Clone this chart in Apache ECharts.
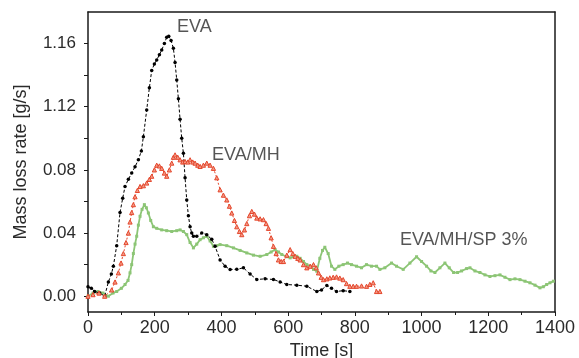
<!DOCTYPE html>
<html>
<head>
<meta charset="utf-8">
<script src="https://cdn.jsdelivr.net/npm/echarts@6/dist/echarts.min.js"></script>
<style>
  html, body { margin: 0; padding: 0; background: #fff; }
  #chart { width: 579px; height: 358px; }
</style>
</head>
<body>
<div id="chart"></div>
<script>
// Mass loss rate curves, [time (s), rate (g/s)]
const evaData = [
  [0,0.006],[10,0.005],[20,0.003],[35,0.002],[50,0.000],[61,0.009],[70,0.014],[76,0.019],[86,0.032],
  [96,0.053],[104,0.062],[111,0.0695],[121,0.074],[131,0.078],[141,0.082],[151,0.0864],[160,0.092],
  [166,0.101],[176,0.118],[184,0.132],[191,0.143],[199,0.147],[206,0.1496],[214,0.153],[221,0.156],
  [229,0.160],[236,0.164],[242,0.1647],[249,0.162],[256,0.157],[261,0.148],[266,0.137],[271,0.125],
  [276,0.112],[281,0.100],[286,0.0906],[291,0.075],[296,0.061],[301,0.051],[306,0.044],[311,0.040],
  [316,0.038],[326,0.038],[341,0.040],[356,0.039],[371,0.036],[381,0.0316],[396,0.023],[411,0.019],
  [426,0.0169],[446,0.017],[466,0.018],[486,0.014],[506,0.0106],[531,0.011],[556,0.0106],[576,0.009],
  [596,0.0074],[626,0.007],[656,0.0063],[686,0.003],[700,0.004],[716,0.0068],[730,0.005],[745,0.003],
  [765,0.0035],[785,0.003]
];
const evaMhData = [
  [0,0],[15,0.001],[33,0.002],[50,0.000],[71,0.004],[81,0.009],[91,0.0148],[99,0.021],[106,0.027],
  [114,0.034],[121,0.040],[126,0.047],[131,0.053],[136,0.058],[141,0.063],[148,0.067],[156,0.0695],
  [166,0.070],[176,0.0717],[184,0.074],[191,0.076],[199,0.080],[206,0.083],[214,0.0825],[221,0.081],
  [229,0.078],[236,0.076],[244,0.080],[251,0.0843],[256,0.088],[261,0.0895],[269,0.088],[276,0.0864],
  [284,0.085],[291,0.0853],[299,0.085],[306,0.0864],[314,0.085],[321,0.0843],[329,0.083],[336,0.0822],
  [346,0.083],[356,0.0843],[366,0.083],[376,0.081],[386,0.075],[396,0.0674],[406,0.064],[416,0.061],
  [424,0.057],[431,0.0527],[439,0.048],[446,0.044],[454,0.041],[461,0.039],[469,0.042],[476,0.046],
  [484,0.051],[491,0.0537],[499,0.052],[506,0.0495],[516,0.049],[526,0.0485],[534,0.046],[541,0.043],
  [549,0.037],[556,0.0316],[564,0.027],[571,0.023],[579,0.022],[586,0.022],[596,0.026],[606,0.0295],
  [614,0.027],[621,0.0253],[629,0.024],[636,0.023],[646,0.020],[656,0.018],[666,0.019],[676,0.020],
  [684,0.018],[691,0.0148],[699,0.012],[706,0.0105],[716,0.011],[725,0.0116],[735,0.012],[745,0.0122],
  [755,0.0115],[765,0.0105],[775,0.008],[785,0.0063],[795,0.0063],[805,0.0063],[820,0.0065],
  [835,0.0063],[845,0.0075],[855,0.0085],[865,0.003],[875,0.003]
];
const evaMhSpData = [
  [0,0],[15,0.002],[30,0.003],[45,0.002],[61,0.000],[75,0.002],[86,0.003],[100,0.005],[111,0.0074],
  [120,0.010],[126,0.0148],[131,0.020],[136,0.027],[141,0.033],[146,0.038],[151,0.045],[156,0.0506],
  [162,0.055],[169,0.058],[175,0.056],[181,0.0527],[188,0.048],[196,0.044],[206,0.043],[221,0.042],
  [236,0.0415],[251,0.041],[266,0.0415],[276,0.042],[286,0.041],[296,0.039],[306,0.034],[316,0.0306],
  [326,0.033],[336,0.0358],[346,0.037],[356,0.038],[366,0.035],[376,0.0316],[386,0.032],[396,0.0327],
  [416,0.032],[436,0.0306],[456,0.029],[476,0.0274],[496,0.026],[516,0.0253],[536,0.0264],[549,0.028],
  [561,0.0295],[571,0.028],[581,0.0264],[596,0.025],[606,0.0243],[616,0.025],[626,0.0253],[636,0.024],
  [646,0.022],[656,0.020],[666,0.019],[676,0.017],[686,0.0158],[695,0.024],[703,0.029],[710,0.031],
  [720,0.027],[730,0.019],[740,0.017],[752,0.019],[765,0.020],[778,0.021],[790,0.020],[805,0.019],
  [820,0.018],[835,0.020],[850,0.019],[865,0.019],[875,0.017],[890,0.018],[910,0.021],[925,0.019],
  [945,0.017],[965,0.021],[985,0.025],[1000,0.022],[1015,0.019],[1028,0.016],[1040,0.015],[1055,0.018],
  [1070,0.021],[1083,0.018],[1096,0.015],[1108,0.015],[1120,0.016],[1135,0.0175],[1145,0.018],
  [1160,0.016],[1175,0.015],[1190,0.0135],[1205,0.0125],[1220,0.013],[1235,0.0135],[1250,0.012],
  [1265,0.0105],[1280,0.011],[1295,0.0105],[1310,0.0095],[1325,0.0085],[1340,0.007],[1355,0.0053],
  [1365,0.006],[1375,0.0074],[1385,0.0085],[1395,0.0095]
];

// Y axis tick values and the labels printed next to them
const yTickValues = [0, 0.04, 0.08, 0.12, 0.16];
const yTickLabels = ['0.00', '0.04', '0.08', '1.12', '1.16'];
const yMinorTicks = [0, 0.02, 0.04, 0.06, 0.08, 0.10, 0.12, 0.14, 0.16];

// Curve names and where they are written
const curveNames = ['EVA', 'EVA/MH', 'EVA/MH/SP 3%'];
const nameAnchors = [[267, 0.1704], [372, 0.0891], [935, 0.0355]];

const chart = echarts.init(document.getElementById('chart'), null, { renderer: 'canvas' });
const FONT = '"Liberation Sans", Arial, sans-serif';
const TXT = '#2b2b2b';
const FRAME = '#1a1a1a';

function labelFor(v) {
  for (let i = 0; i < yTickValues.length; i++) {
    if (Math.abs(v - yTickValues[i]) < 1e-6) return yTickLabels[i];
  }
  return '';
}

const frameAxis = {
  type: 'value',
  axisLine: { show: true, onZero: false, lineStyle: { color: FRAME, width: 1.5 } },
  axisTick: { show: false }, axisLabel: { show: false }, splitLine: { show: false }
};

chart.setOption({
  animation: false,
  backgroundColor: '#fff',
  grid: { left: 88, right: 24, top: 12, bottom: 46, containLabel: false, outerBoundsMode: 'none' },
  xAxis: [{
    type: 'value', min: 0, max: 1400, interval: 200,
    name: 'Time [s]', nameLocation: 'middle', nameGap: 28,
    nameTextStyle: { fontFamily: FONT, fontSize: 18, color: TXT },
    axisLine: { show: true, onZero: false, lineStyle: { color: FRAME, width: 1.5 } },
    axisTick: { show: true, length: 4, lineStyle: { color: FRAME, width: 1 } },
    minorTick: { show: true, splitNumber: 2, length: 3, lineStyle: { color: FRAME, width: 1 } },
    splitLine: { show: false },
    axisLabel: { fontFamily: FONT, fontSize: 18, color: TXT, margin: 7, formatter: v => String(v) }
  }, Object.assign({ position: 'top', min: 0, max: 1400 }, frameAxis)],
  yAxis: [{
    type: 'value', min: -0.01, max: 0.18,
    name: 'Mass loss rate [g/s]', nameLocation: 'middle', nameGap: 58,
    nameTextStyle: { fontFamily: FONT, fontSize: 18, color: TXT },
    axisLine: { show: true, onZero: false, lineStyle: { color: FRAME, width: 1.5 } },
    axisTick: { show: true, length: 4, customValues: yMinorTicks, lineStyle: { color: FRAME, width: 1 } },
    splitLine: { show: false },
    axisLabel: {
      fontFamily: FONT, fontSize: 17, color: TXT, margin: 12,
      customValues: yTickValues,
      formatter: labelFor
    }
  }, Object.assign({ position: 'right', min: -0.01, max: 0.18 }, frameAxis)],
  series: [
    {
      name: curveNames[0], type: 'line', data: evaData, z: 3,
      symbol: 'circle', symbolSize: 3.5, showSymbol: true,
      itemStyle: { color: '#000' },
      lineStyle: { color: '#000', width: 1, type: [3, 2] }
    },
    {
      name: curveNames[1], type: 'line', data: evaMhData, z: 4,
      symbol: 'triangle', symbolSize: 4.2, showSymbol: true,
      itemStyle: { color: '#f39a86', borderColor: '#e4462c', borderWidth: 1 },
      lineStyle: { color: '#e4462c', width: 1, type: [2, 2] }
    },
    {
      name: curveNames[2], type: 'line', data: evaMhSpData, z: 2,
      symbol: 'rect', symbolSize: 3, showSymbol: true,
      itemStyle: { color: '#8cc575' },
      lineStyle: { color: '#8cc575', width: 1.8 }
    },
    {
      type: 'scatter', z: 6, silent: true,
      symbolSize: 0,
      data: nameAnchors.map((p, i) => ({ value: p, name: curveNames[i] })),
      label: {
        show: true, position: 'right', distance: 0,
        formatter: p => p.name,
        fontFamily: FONT, fontSize: 18, color: TXT
      }
    }
  ]
});
</script>
</body>
</html>
